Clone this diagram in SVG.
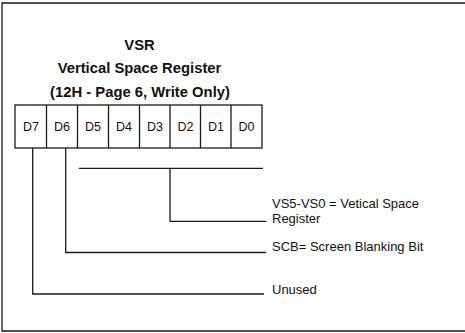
<svg xmlns="http://www.w3.org/2000/svg" width="465" height="333" viewBox="0 0 465 333">
<style>
.ln{fill:none;stroke:#1a1a1a;stroke-width:1.3}
.cell{fill:#fff;stroke:#1a1a1a;stroke-width:1.3}
.t{font-family:"Liberation Sans",Arial,sans-serif;fill:#111}
.title{font-size:14.8px;font-weight:bold;text-anchor:middle}
.bit{font-size:12.5px;text-anchor:middle}
.lbl{font-size:13px}
</style>
<rect width="465" height="333" fill="#fff"/>
<path class="ln" d="M466,3 H2 V331 H466" stroke-width="1.5"/>
<g id="title">
<text class="t title" x="139.5" y="50">VSR</text>
<text class="t title" x="139.5" y="72.5">Vertical Space Register</text>
<text class="t title" x="140" y="96.5">(12H - Page 6, Write Only)</text>
</g>
<g id="register">
<rect class="cell" x="15" y="105" width="247" height="43"/>
<path class="ln" d="M46.5,105V148M77.5,105V148M108.5,105V148M139.5,105V148M170,105V148M200.5,105V148M231,105V148"/>
<text class="t bit" x="31" y="131">D7</text>
<text class="t bit" x="62" y="131">D6</text>
<text class="t bit" x="93" y="131">D5</text>
<text class="t bit" x="124" y="131">D4</text>
<text class="t bit" x="155" y="131">D3</text>
<text class="t bit" x="185.5" y="131">D2</text>
<text class="t bit" x="216" y="131">D1</text>
<text class="t bit" x="246.5" y="131">D0</text>
</g>
<g id="connectors">
<path class="ln" d="M32.7,148V294H264"/>
<path class="ln" d="M65.7,148V252.5H266"/>
<path class="ln" d="M79,168.3H263"/>
<path class="ln" d="M170,168.3V221.3H266.5"/>
</g>
<g id="label-vs">
<text class="t lbl" x="272" y="208.3">VS5-VS0 = Vetical Space</text>
<text class="t lbl" x="272" y="223.3">Register</text>
</g>
<g id="label-scb">
<text class="t lbl" x="272" y="251">SCB= Screen Blanking Bit</text>
</g>
<g id="label-unused">
<text class="t lbl" x="272" y="294">Unused</text>
</g>
</svg>
